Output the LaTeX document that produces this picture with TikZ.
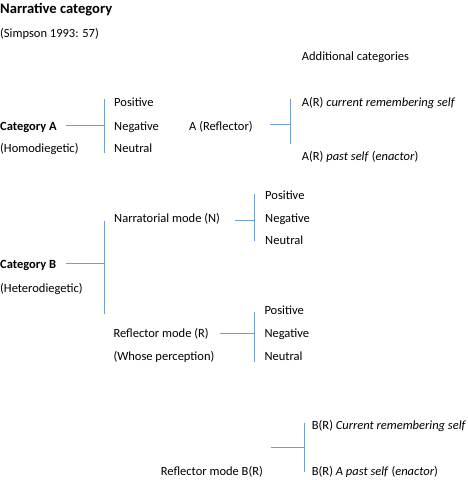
\documentclass[tikz,border=0pt]{standalone}
\usepackage{fontspec}
\setmainfont{Carlito}
\definecolor{bl}{RGB}{112,158,214}
\begin{document}
\begin{tikzpicture}[x=1pt,y=-1pt,
  txt/.style={anchor=base west, inner sep=0pt, font=\fontsize{12.5}{15}\selectfont},
  bld/.style={txt, font=\fontsize{12.5}{15}\selectfont\bfseries},
  ttl/.style={txt, font=\fontsize{14.6}{17}\selectfont\bfseries},
  ln/.style={draw=bl, line width=0.9pt}]
\useasboundingbox (0,0) rectangle (468,480);
% texts
\node[ttl] (title) at (0,13.5) {Narrative category};
\node[txt] (simpson) at (0,37.5) {(Simpson 1993: 57)};
\node[txt] (addcat) at (301.7,60.7) {Additional categories};
\node[bld] (catA) at (0,130) {Category A};
\node[txt] (homo) at (0,152) {(Homodiegetic)};
\node[txt] (pos1) at (114,106) {Positive};
\node[txt] (neg1) at (114,130) {Negative};
\node[txt] (neu1) at (114,152) {Neutral};
\node[txt] (arefl) at (189,130) {A (Reflector)};
\node[txt] (arcur) at (301.7,106.3) {A(R) \textit{current remembering self}};
\node[txt] (arpast) at (301.7,160.7) {A(R) \textit{past self} (\textit{enactor})};
\node[txt] (narr) at (114,222.3) {Narratorial mode (N)};
\node[txt] (pos2) at (265,199) {Positive};
\node[txt] (neg2) at (265,222.3) {Negative};
\node[txt] (neu2) at (265,244.7) {Neutral};
\node[bld] (catB) at (0,268.3) {Category B};
\node[txt] (hetero) at (0,292.3) {(Heterodiegetic)};
\node[txt] (refl) at (113.3,337.3) {Reflector mode (R)};
\node[txt] (whose) at (113.3,360.7) {(Whose perception)};
\node[txt] (pos3) at (264.3,314) {Positive};
\node[txt] (neg3) at (264.3,337.3) {Negative};
\node[txt] (neu3) at (264.3,360.7) {Neutral};
\node[txt] (brcur) at (311.7,429) {B(R) \textit{Current remembering self}};
\node[txt] (reflB) at (160.7,475.7) {Reflector mode B(R)};
\node[txt] (brpast) at (311.7,475.7) {B(R) \textit{A past self} (\textit{enactor})};
% connector points
\coordinate (hA1) at (66,125);    \coordinate (hA2) at (104.5,125);
\coordinate (vA1) at (104.5,99);  \coordinate (vA2) at (104.5,153);
\coordinate (hR1) at (270,124.3); \coordinate (hR2) at (290,124.3);
\coordinate (vR1) at (290,99.3);  \coordinate (vR2) at (290,144);
\coordinate (hB1) at (66,263.7);  \coordinate (hB2) at (104.5,263.7);
\coordinate (vB1) at (104.5,220.7); \coordinate (vB2) at (104.5,314);
\coordinate (hN1) at (235,220.3); \coordinate (hN2) at (254,220.3);
\coordinate (vN1) at (254,194);   \coordinate (vN2) at (254,240.7);
\coordinate (hM1) at (220,333.3); \coordinate (hM2) at (254,333.3);
\coordinate (vM1) at (254,312.3); \coordinate (vM2) at (254,361.7);
\coordinate (hQ1) at (270.7,447.7); \coordinate (hQ2) at (304,447.7);
\coordinate (vQ1) at (304,422.7); \coordinate (vQ2) at (304,472.3);
% connectors
\draw[ln] (hA1) -- (hA2); \draw[ln] (vA1) -- (vA2);
\draw[ln] (hR1) -- (hR2); \draw[ln] (vR1) -- (vR2);
\draw[ln] (hB1) -- (hB2); \draw[ln] (vB1) -- (vB2);
\draw[ln] (hN1) -- (hN2); \draw[ln] (vN1) -- (vN2);
\draw[ln] (hM1) -- (hM2); \draw[ln] (vM1) -- (vM2);
\draw[ln] (hQ1) -- (hQ2); \draw[ln] (vQ1) -- (vQ2);
\end{tikzpicture}
\end{document}
